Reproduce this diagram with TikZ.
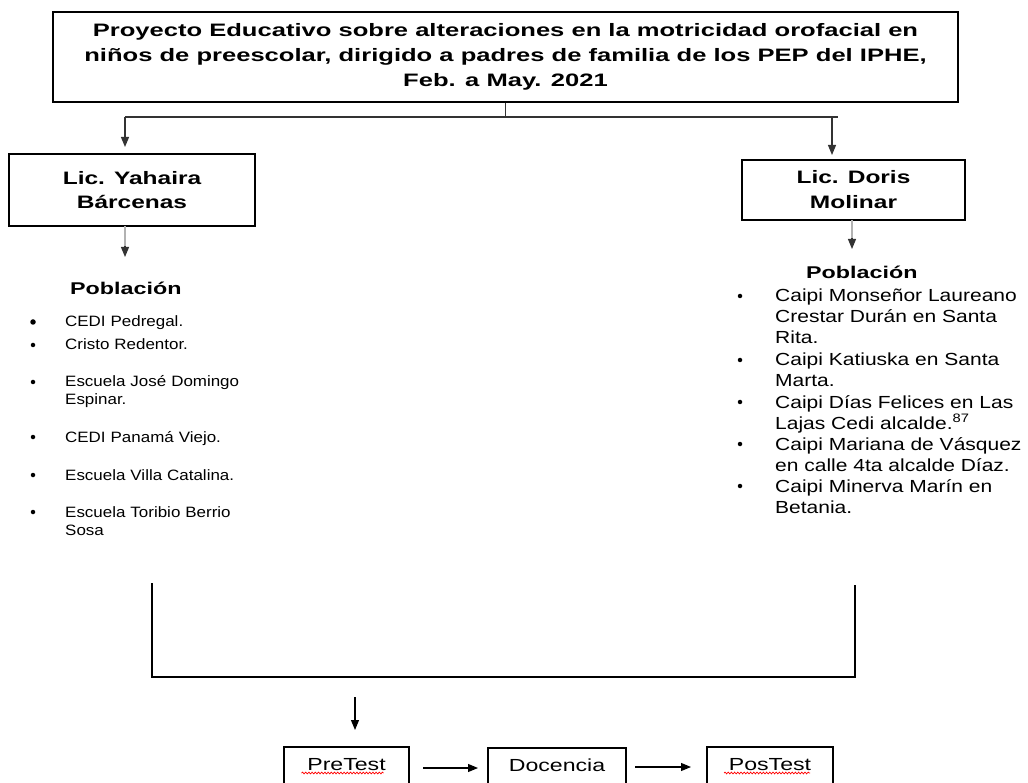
\documentclass[tikz,border=0pt]{standalone}
\usepackage{fontspec}
\setmainfont{Liberation Sans}
\newfontfamily\titlef[FakeStretch=1.42]{Liberation Sans}
\newfontfamily\boxf[FakeStretch=1.36]{Liberation Sans}
\newfontfamily\popf[FakeStretch=1.37]{Liberation Sans}
\newfontfamily\listl[FakeStretch=1.13]{Liberation Sans}
\newfontfamily\listr[FakeStretch=1.20]{Liberation Sans}
\newfontfamily\smallf[FakeStretch=1.32]{Liberation Sans}
\usetikzlibrary{arrows.meta,decorations.pathmorphing}
\begin{document}
\begin{tikzpicture}[x=1pt,y=-1pt,
  box/.style={draw=black, line width=1.3pt, inner sep=0pt},
  conn/.style={draw=black!80, line width=1.1pt},
  arr/.style={conn, -{Triangle[length=10pt,width=8pt]}},
  popl/.style={anchor=base west, font=\popf\bfseries\fontsize{17}{20}\selectfont, inner sep=0pt},
  iteml/.style={anchor=base west, text width=240pt, align=left, inner sep=0pt, font=\listl\fontsize{15}{18}\selectfont},
  itemr/.style={anchor=base west, text width=260pt, align=left, inner sep=0pt, font=\listr\fontsize{17.5}{21}\selectfont},
  bul/.style={circle, fill=black, inner sep=0pt, minimum size=4.5pt},
  seqbox/.style={box, line width=1.1pt, anchor=base, text height=23pt, text depth=30pt,
                 font=\smallf\fontsize{17.5}{20}\selectfont},
  wavy/.style={draw=red, line width=0.7pt, decorate, decoration={snake, amplitude=0.9pt, segment length=3.2pt}}
]
\useasboundingbox (0,0) rectangle (1028,783);

% title
\node[box, minimum width=905pt, minimum height=90pt, align=center,
      font=\titlef\bfseries\fontsize{18}{25}\selectfont] (title) at (505.5,57)
  {Proyecto Educativo sobre alteraciones en la motricidad orofacial en\\
   niños de preescolar, dirigido a padres de familia de los PEP del IPHE,\\
   Feb. a May. 2021};

% authors
\node[box, minimum width=246pt, minimum height=72pt, align=center,
      font=\boxf\bfseries\fontsize{18}{24}\selectfont] (lbox) at (132,190)
  {Lic. Yahaira\\Bárcenas};
\node[box, minimum width=223pt, minimum height=60pt, align=center,
      font=\boxf\bfseries\fontsize{18}{25}\selectfont] (rbox) at (853.5,190)
  {Lic. Doris\\Molinar};

% top connectors
\coordinate (hj) at (505.5,117);
\coordinate (hl) at (125,117);
\coordinate (hr) at (838,117);
\coordinate (hr2) at (832,117);
\coordinate (al) at (125,147);
\coordinate (ar) at (832,155);
\draw[conn] (title.south) -- (hj);
\draw[conn] (hl) -- (hr);
\draw[arr] (hl) -- (al);
\draw[arr] (hr2) -- (ar);

% arrows below author boxes
\coordinate (lb1) at (125,226);
\coordinate (lb2) at (125,257);
\coordinate (rb1) at (852,220);
\coordinate (rb2) at (852,249);
\draw[conn, draw=black!30] (lb1) -- (125,249);
\draw[arr] (125,246) -- (lb2);
\draw[conn, draw=black!30] (rb1) -- (852,241);
\draw[arr] (852,238) -- (rb2);

% left population
\node[popl] (popL) at (70,295) {Población};
\node[iteml] (l1) at (65,327) {CEDI Pedregal.};
\node[iteml] (l2) at (65,350) {Cristo Redentor.};
\node[iteml] (l3) at (65,387) {Escuela José Domingo\\Espinar.};
\node[iteml] (l4) at (65,442) {CEDI Panamá Viejo.};
\node[iteml] (l5) at (65,480) {Escuela Villa Catalina.};
\node[iteml] (l6) at (65,517) {Escuela Toribio Berrio\\Sosa};
\node[bul, minimum size=5.5pt] (bl1) at (33,322) {};
\node[bul] (bl2) at (33,345) {};
\node[bul] (bl3) at (33,382) {};
\node[bul] (bl4) at (33,437) {};
\node[bul] (bl5) at (33,475) {};
\node[bul] (bl6) at (33,512) {};

% right population
\node[popl] (popR) at (806,279) {Población};
\node[itemr] (r1) at (775,302) {Caipi Monseñor Laureano\\Crestar Durán en Santa\\Rita.};
\node[itemr] (r2) at (775,366) {Caipi Katiuska en Santa\\Marta.};
\node[itemr] (r3) at (775,408) {Caipi Días Felices en Las\\Lajas Cedi alcalde.\textsuperscript{87}};
\node[itemr] (r4) at (775,450) {Caipi Mariana de Vásquez\\en calle 4ta alcalde Díaz.};
\node[itemr] (r5) at (775,492) {Caipi Minerva Marín en\\Betania.};
\node[bul] (br1) at (740,296) {};
\node[bul] (br2) at (740,360) {};
\node[bul] (br3) at (740,402) {};
\node[bul] (br4) at (740,444) {};
\node[bul] (br5) at (740,486) {};

% bracket
\coordinate (k1) at (152,583);
\coordinate (k2) at (152,677);
\coordinate (k3) at (855,677);
\coordinate (k4) at (855,585);
\draw[conn, draw=black] (k1) -- (k2) -- (k3) -- (k4);

% arrow down to sequence
\coordinate (d1) at (355,697);
\coordinate (d2) at (355,730);
\draw[arr, draw=black] (d1) -- (d2);

% bottom sequence
\node[seqbox, minimum width=125pt] (pre) at (346.5,770) {PreTest};
\node[seqbox, minimum width=138pt] (doc) at (557,771) {Docencia};
\node[seqbox, minimum width=126pt] (pos) at (770,770) {PosTest};
\coordinate (a1s) at (423,768);
\coordinate (a1e) at (478,768);
\coordinate (a2s) at (635,767);
\coordinate (a2e) at (691,767);
\draw[arr, draw=black] (a1s) -- (a1e);
\draw[arr, draw=black] (a2s) -- (a2e);
\draw[wavy] ([shift={(-45,3)}]pre.base) -- ([shift={(37,3)}]pre.base);
\draw[wavy] ([shift={(-46,3)}]pos.base) -- ([shift={(40,3)}]pos.base);
\end{tikzpicture}
\end{document}
